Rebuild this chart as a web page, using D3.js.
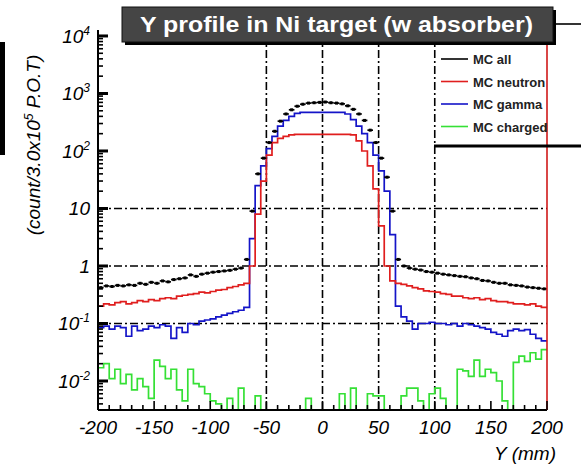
<!DOCTYPE html>
<html>
<head>
<meta charset="utf-8">
<script src="https://cdn.jsdelivr.net/npm/d3@7"></script>
<style>
  body { margin: 0; background: #fff; }
  svg { display: block; font-family: "Liberation Sans", Arial, sans-serif; }
</style>
</head>
<body>
<div id="chart"></div>
<script>
// Y profile histograms, 80 bins of 5 mm from -200 to 200 mm
const binLow = -200
const binWidth = 5

const allVals = [
  0.42, 0.45, 0.44, 0.46, 0.45, 0.47, 0.46, 0.5, 0.48, 0.52,
  0.5, 0.55, 0.53, 0.58, 0.6, 0.62, 0.7, 0.66, 0.72, 0.75,
  0.78, 0.8, 0.82, 0.84, 0.88, 0.92, 1.3, 9, 40, 75,
  140, 220, 330, 440, 520, 600, 650, 680, 690, 700,
  710, 690, 680, 660, 610, 530, 440, 340, 230, 140,
  75, 35, 9, 1.3, 1.0, 0.92, 0.88, 0.85, 0.8, 0.78,
  0.75, 0.72, 0.7, 0.68, 0.66, 0.65, 0.62, 0.6, 0.56, 0.55,
  0.52, 0.5, 0.5, 0.47, 0.46, 0.45, 0.43, 0.42, 0.41, 0.4
]
const neutronVals = [
  0.2, 0.22, 0.21, 0.23, 0.24, 0.22, 0.23, 0.25, 0.24, 0.26,
  0.25, 0.27, 0.28, 0.27, 0.3, 0.31, 0.32, 0.33, 0.35, 0.34,
  0.36, 0.38, 0.39, 0.42, 0.44, 0.47, 0.5, 1.0, 8, 30,
  85, 140, 165, 180, 190, 195, 195, 195, 195, 195,
  195, 195, 195, 195, 195, 190, 150, 100, 55, 22,
  5, 1.0, 0.55, 0.5, 0.48, 0.45, 0.42, 0.4, 0.37, 0.36,
  0.35, 0.33, 0.32, 0.3, 0.3, 0.28, 0.27, 0.28, 0.26, 0.27,
  0.25, 0.24, 0.24, 0.23, 0.22, 0.22, 0.21, 0.22, 0.2, 0.19
]
const gammaVals = [
  0.085, 0.09, 0.08, 0.09, 0.085, 0.06, 0.09, 0.075, 0.08, 0.09,
  0.085, 0.095, 0.09, 0.055, 0.085, 0.07, 0.1, 0.095, 0.11, 0.115,
  0.12, 0.13, 0.14, 0.15, 0.16, 0.17, 0.19, 3, 25, 55,
  110, 180, 270, 340, 400, 450, 470, 470, 470, 470,
  470, 470, 470, 470, 440, 350, 270, 200, 140, 85,
  45, 20, 3.5, 0.2, 0.13, 0.11, 0.08, 0.1, 0.1, 0.105,
  0.1, 0.1, 0.095, 0.1, 0.09, 0.1, 0.095, 0.09, 0.085, 0.08,
  0.07, 0.065, 0.06, 0.075, 0.08, 0.075, 0.078, 0.065, 0.055, 0.05
]
const chargedVals = [
  0.017, 0.02, 0.011, 0.016, 0.009, 0.013, 0.007, 0.011, 0.008, 0.005,
  0.023, 0.018, 0.011, 0.016, 0.007, 0.0045, 0.016, 0.009, 0.008, 0.006,
  0.0045, 0.004, 0, 0.005, 0, 0.0075, 0, 0, 0.0055, 0,
  0, 0, 0, 0, 0, 0, 0, 0.005, 0, 0,
  0, 0, 0, 0.006, 0, 0.0075, 0, 0, 0.006, 0.0055,
  0.0055, 0, 0, 0, 0.0055, 0.0075, 0.0075, 0.0045, 0, 0.006,
  0.0075, 0.005, 0, 0, 0.016, 0.015, 0.012, 0.023, 0.012, 0.016,
  0.014, 0.01, 0.0045, 0, 0.021, 0.027, 0.022, 0.031, 0.024, 0.035
]

const seriesNames = ['MC all', 'MC neutron', 'MC gamma', 'MC charged']
const seriesColors = ['#000000', '#e01e1e', '#1414c8', '#35e035']

const xTicks = [-200, -150, -100, -50, 0, 50, 100, 150, 200]
const yTicks = [1e-2, 1e-1, 1, 10, 1e2, 1e3, 1e4]
const yTickLabels = [['10', '-2'], ['10', '-1'], ['1', ''], ['10', ''], ['10', '2'], ['10', '3'], ['10', '4']]
const xGrid = [-50, 0, 50, 100]
const yGrid = [0.1, 1, 10]

const Width = 581
const Height = 476
const mLeft = 98, mRight = 547, mTop = 30, mBottom = 410

const svg = d3.select('#chart').append('svg')
  .attr('width', Width)
  .attr('height', Height)

const x = d3.scaleLinear().domain([-200, 200]).range([mLeft, mRight])
const y = d3.scaleLog().domain([0.00313, 12700]).range([mBottom, mTop])
const yc = v => y(Math.max(v, y.domain()[0]))

// grid lines (dash-dot)
const grid = svg.append('g')
  .attr('stroke', '#000').attr('stroke-width', 1.6)
  .attr('stroke-dasharray', '8,3,2,3')
grid.selectAll('.gx').data(xGrid).enter().append('line')
  .attr('x1', d => x(d)).attr('x2', d => x(d))
  .attr('y1', mBottom).attr('y2', mTop)
grid.selectAll('.gy').data(yGrid).enter().append('line')
  .attr('x1', mLeft).attr('x2', mRight)
  .attr('y1', d => y(d)).attr('y2', d => y(d))

// step histograms
function stepPath(vals) {
  let p = ''
  vals.forEach((v, i) => {
    const x0 = x(binLow + i * binWidth), x1 = x(binLow + (i + 1) * binWidth)
    p += (i === 0 ? 'M' : 'L') + x0 + ',' + yc(v) + 'L' + x1 + ',' + yc(v)
  })
  return p
}
const plot = svg.append('g')
;[chargedVals, gammaVals, neutronVals].forEach((vals, k) => {
  plot.append('path')
    .attr('d', stepPath(vals))
    .attr('fill', 'none')
    .attr('stroke', seriesColors[3 - k])
    .attr('stroke-width', 1.7)
})

// MC all: horizontal bin bars + small square markers
const allG = plot.append('g')
allG.selectAll('line').data(allVals).enter().append('line')
  .attr('x1', (d, i) => x(binLow + i * binWidth))
  .attr('x2', (d, i) => x(binLow + (i + 1) * binWidth))
  .attr('y1', d => y(d)).attr('y2', d => y(d))
  .attr('stroke', '#000').attr('stroke-width', 1.7)
allG.selectAll('rect').data(allVals).enter().append('rect')
  .attr('x', (d, i) => x(binLow + (i + 0.5) * binWidth) - 1.5)
  .attr('y', d => y(d) - 1.5)
  .attr('width', 3).attr('height', 3)
  .attr('fill', '#000')

// frame
svg.append('line').attr('x1', mLeft).attr('x2', mLeft).attr('y1', mTop).attr('y2', mBottom)
  .attr('stroke', '#000').attr('stroke-width', 2)
svg.append('line').attr('x1', mLeft).attr('x2', mRight).attr('y1', mBottom).attr('y2', mBottom)
  .attr('stroke', '#000').attr('stroke-width', 2)
svg.append('line').attr('x1', mRight).attr('x2', mRight).attr('y1', mTop).attr('y2', mBottom)
  .attr('stroke', '#d01818').attr('stroke-width', 1.6)

// x ticks (inward)
const xMinor = d3.range(-200, 201, 10)
svg.append('g').selectAll('line').data(xMinor).enter().append('line')
  .attr('x1', d => x(d)).attr('x2', d => x(d))
  .attr('y1', mBottom).attr('y2', d => mBottom - (d % 50 === 0 ? 9 : 5))
  .attr('stroke', '#000').attr('stroke-width', 1.6)
svg.append('g').selectAll('text').data(xTicks).enter().append('text')
  .attr('x', d => x(d)).attr('y', 434)
  .attr('text-anchor', 'middle')
  .attr('font-size', 19).attr('font-style', 'italic')
  .text(d => d)
svg.append('text').attr('x', 556).attr('y', 460)
  .attr('text-anchor', 'end').attr('font-size', 19).attr('font-style', 'italic')
  .text('Y (mm)')

// y ticks (inward)
const yMinor = []
d3.range(-3, 5).forEach(e => d3.range(1, 10).forEach(m => yMinor.push(m * Math.pow(10, e))))
const isMajor = v => yTicks.some(t => Math.abs(t - v) / t < 1e-9)
svg.append('g').selectAll('line')
  .data(yMinor.filter(v => v >= y.domain()[0] && v <= y.domain()[1])).enter().append('line')
  .attr('x1', mLeft).attr('x2', d => mLeft + (isMajor(d) ? 10 : 5))
  .attr('y1', d => y(d)).attr('y2', d => y(d))
  .attr('stroke', '#000').attr('stroke-width', d => isMajor(d) ? 3 : 1.6)
const yl = svg.append('g').selectAll('text').data(yTicks).enter().append('text')
  .attr('x', 90).attr('y', d => y(d) + 7)
  .attr('text-anchor', 'end')
  .attr('font-size', 19).attr('font-style', 'italic')
yl.append('tspan').text((d, i) => yTickLabels[i][0])
yl.append('tspan').attr('font-size', 12).attr('dy', -8)
  .text((d, i) => yTickLabels[i][1])

// y title
const yt = svg.append('text')
  .attr('transform', 'translate(40,145) rotate(-90)')
  .attr('text-anchor', 'middle')
  .attr('font-size', 19).attr('font-style', 'italic')
yt.append('tspan').text('(count/3.0x10')
yt.append('tspan').attr('font-size', 12).attr('dy', -7).text('5')
yt.append('tspan').attr('dy', 7).text(' P.O.T)')

// stray bar on far left
svg.append('rect').attr('x', 0).attr('y', 42).attr('width', 5).attr('height', 113).attr('fill', '#000')

// legend
const lg = svg.append('g')
lg.append('line').attr('x1', 434).attr('x2', 581).attr('y1', 146).attr('y2', 146)
  .attr('stroke', '#000').attr('stroke-width', 3)
seriesNames.forEach((name, i) => {
  const ly = 59 + i * 22.5
  lg.append('line').attr('x1', 441).attr('x2', 468).attr('y1', ly).attr('y2', ly)
    .attr('stroke', seriesColors[i]).attr('stroke-width', 1.6)
  lg.append('text').attr('x', 473).attr('y', ly + 5)
    .attr('font-size', 13).attr('font-weight', 'bold').attr('fill', '#222')
    .text(name)
})

// title box with shadow
svg.append('line').attr('x1', 553).attr('x2', 581).attr('y1', 24).attr('y2', 24)
  .attr('stroke', '#000').attr('stroke-width', 1.6)
svg.append('rect').attr('x', 125).attr('y', 10).attr('width', 431).attr('height', 35).attr('fill', '#000')
svg.append('rect').attr('x', 122).attr('y', 7).attr('width', 431).attr('height', 35)
  .attr('fill', '#454545').attr('stroke', '#111').attr('stroke-width', 1)
svg.append('text').attr('x', 140).attr('y', 32)
  .attr('fill', '#fff')
  .attr('font-size', 22).attr('font-weight', 'bold')
  .attr('textLength', 393).attr('lengthAdjust', 'spacingAndGlyphs')
  .text('Y profile in Ni target (w absorber)')
</script>
</body>
</html>
